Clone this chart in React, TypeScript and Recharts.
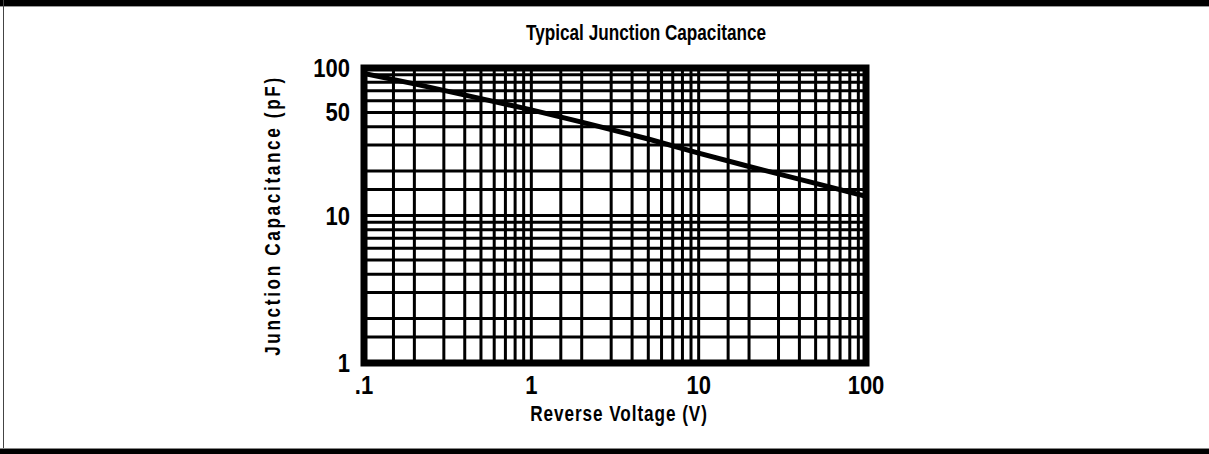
import React from 'react';
import { LineChart, Line, XAxis, YAxis, ReferenceLine, ReferenceArea, Label } from 'recharts';

// (log-log)
const voltage = [0.1, 0.2, 0.5, 1, 2, 5, 10, 20, 50, 100];
const capacitance = [92, 78, 62, 52, 43, 33, 26.5, 21.5, 16.5, 13.5];

const xTicks = [0.1, 1, 10, 100];
const yTicks = [1, 10, 50, 100];

const xGrid = [
  0.15, 0.2, 0.3, 0.4, 0.5, 0.6, 0.7, 0.8, 0.9, 1,
  1.5, 2, 3, 4, 5, 6, 7, 8, 9, 10,
  15, 20, 30, 40, 50, 60, 70, 80, 90,
];
const yGrid = [
  1.5, 2, 3, 4, 5, 6, 7, 8, 9, 10,
  15, 20, 30, 40, 50, 60, 70, 80, 90,
];

const data = voltage.map((v, i) => ({ v, c: capacitance[i] }));

// condensed look: Liberation Sans Bold squeezed horizontally
const font = '"Liberation Sans", Arial, sans-serif';
const TICK_SQUEEZE = 0.88;
const TITLE_SQUEEZE = 0.78;

const fmtX = (v: number) => (v === 0.1 ? '.1' : String(v));

function XTick(props: any) {
  const { x, y, payload } = props;
  return (
    <text
      transform={`translate(${x},${y}) scale(${TICK_SQUEEZE},1)`}
      textAnchor="middle"
      dy="0.72em"
      fontFamily={font}
      fontWeight={700}
      fontSize={25}
      fill="#000"
    >
      {fmtX(payload.value)}
    </text>
  );
}

function YTick(props: any) {
  const { x, y, payload } = props;
  return (
    <text
      transform={`translate(${x},${y}) scale(${TICK_SQUEEZE},1)`}
      textAnchor="end"
      dy="0.36em"
      fontFamily={font}
      fontWeight={700}
      fontSize={25}
      fill="#000"
    >
      {payload.value}
    </text>
  );
}

function YTitle(props: any) {
  const vb = props.viewBox || {};
  const cx = vb.x + 8;
  const cy = vb.y + vb.height / 2;
  return (
    <text
      transform={`translate(${cx},${cy}) rotate(-90) scale(${TITLE_SQUEEZE},1)`}
      textAnchor="middle"
      dy="0.36em"
      fontFamily={font}
      fontWeight={700}
      fontSize={22}
      letterSpacing={3.4}
      fill="#000"
    >
      Junction Capacitance (pF)
    </text>
  );
}

function XTitle(props: any) {
  const vb = props.viewBox || {};
  const cx = vb.x + vb.width / 2 + 4;
  const cy = vb.y + 50;
  return (
    <text
      transform={`translate(${cx},${cy}) scale(${TITLE_SQUEEZE},1)`}
      textAnchor="middle"
      dy="0.36em"
      fontFamily={font}
      fontWeight={700}
      fontSize={22}
      letterSpacing={1.2}
      fill="#000"
    >
      Reverse Voltage (V)
    </text>
  );
}

export default function App() {
  return (
    <div style={{ position: 'absolute', left: 0, top: 0, width: 1209, height: 454, background: '#fff', overflow: 'hidden' }}>
      {/* page frame of the datasheet */}
      <div style={{ position: 'absolute', left: 0, top: 0, width: 1209, height: 6, background: '#000' }} />
      <div style={{ position: 'absolute', left: 0, top: 6, width: 1209, height: 1, background: '#999' }} />
      <div style={{ position: 'absolute', left: 3, top: 0, width: 1, height: 454, background: '#444' }} />
      <div style={{ position: 'absolute', left: 0, top: 448, width: 1209, height: 1, background: '#888' }} />
      <div style={{ position: 'absolute', left: 0, top: 449, width: 1209, height: 5, background: '#000' }} />

      <div
        style={{
          position: 'absolute', left: 346, top: 19, width: 600, textAlign: 'center',
          fontFamily: font, fontWeight: 700, fontSize: 22, color: '#000', lineHeight: '27px',
          transform: `scale(${TITLE_SQUEEZE},1)`, transformOrigin: '300px 0',
        }}
      >
        Typical Junction Capacitance
      </div>

      <div style={{ position: 'absolute', left: 0, top: 0 }}>
        <LineChart width={1209} height={454} data={data} margin={{ top: 68, right: 343, bottom: 31, left: 264 }}>
          <XAxis
            dataKey="v"
            type="number"
            scale="log"
            domain={[0.1, 100]}
            ticks={xTicks}
            allowDataOverflow
            axisLine={false}
            tickLine={false}
            tickSize={0}
            tickMargin={13}
            height={60}
            tick={(p: any) => <XTick {...p} />}
          >
            <Label content={(p: any) => <XTitle {...p} />} />
          </XAxis>
          <YAxis
            type="number"
            scale="log"
            domain={[1, 100]}
            ticks={yTicks}
            allowDataOverflow
            axisLine={false}
            tickLine={false}
            tickSize={0}
            tickMargin={14}
            width={100}
            tick={(p: any) => <YTick {...p} />}
          >
            <Label content={(p: any) => <YTitle {...p} />} />
          </YAxis>
          {xGrid.map((x) => (
            <ReferenceLine key={'x' + x} x={x} stroke="#000" strokeWidth={3} />
          ))}
          {yGrid.map((y) => (
            <ReferenceLine key={'y' + y} y={y} stroke="#000" strokeWidth={3} />
          ))}
          <ReferenceArea x1={0.1} x2={100} y1={1} y2={100} fill="none" stroke="#000" strokeWidth={7} fillOpacity={0} />
          <Line
            dataKey="c"
            type="linear"
            stroke="#000"
            strokeWidth={5}
            dot={false}
            isAnimationActive={false}
          />
        </LineChart>
      </div>
    </div>
  );
}
